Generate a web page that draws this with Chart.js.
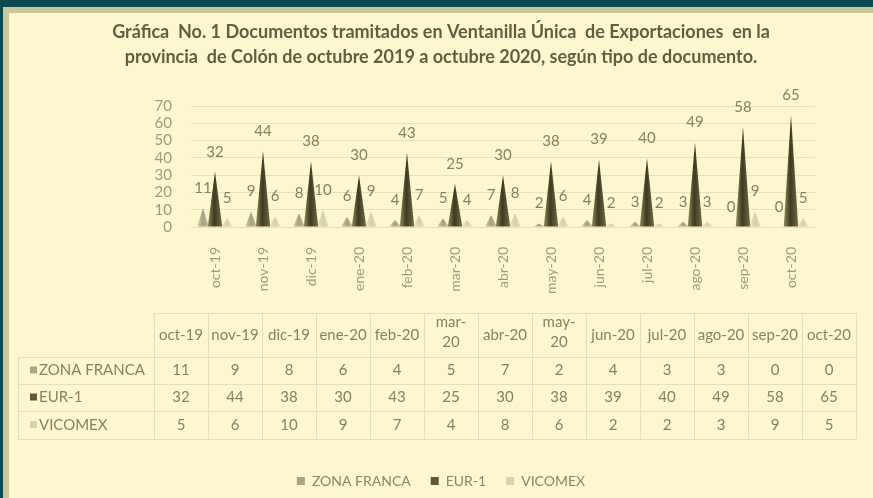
<!DOCTYPE html>
<html>
<head>
<meta charset="utf-8">
<script src="https://cdn.jsdelivr.net/npm/chart.js@4.4.0/dist/chart.umd.min.js"></script>
<style>
  html, body { margin: 0; padding: 0; width: 873px; height: 498px; overflow: hidden; background: #0b4a51; }
  #frame { position: absolute; left: 3px; top: 7px; width: 870px; height: 491px; background: #ccc69b; }
  #inner { position: absolute; left: 9px; top: 13px; width: 864px; height: 485px; background: #fcf7cf; }
  canvas { display: block; }
</style>
</head>
<body>
<div id="frame"></div>
<div id="inner"><canvas id="chart" width="864" height="485"></canvas></div>
<script>
  // data
  const categories = ['oct-19', 'nov-19', 'dic-19', 'ene-20', 'feb-20', 'mar-20', 'abr-20', 'may-20', 'jun-20', 'jul-20', 'ago-20', 'sep-20', 'oct-20'];
  const zonaFranca = [11, 9, 8, 6, 4, 5, 7, 2, 4, 3, 3, 0, 0];
  const eur1 = [32, 44, 38, 30, 43, 25, 30, 38, 39, 40, 49, 58, 65];
  const vicomex = [5, 6, 10, 9, 7, 4, 8, 6, 2, 2, 3, 9, 5];
  const seriesNames = ['ZONA FRANCA', 'EUR-1', 'VICOMEX'];
  const yTicks = [0, 10, 20, 30, 40, 50, 60, 70];
  // table headers that Excel wrapped on two lines
  const wrappedHeaders = ['mar-20', 'may-20'];

  const titleLines = [
    'Gráfica  No. 1 Documentos tramitados en Ventanilla Única  de Exportaciones  en la',
    'provincia  de Colón de octubre 2019 a octubre 2020, según tipo de documento.'
  ];

  const FONT = 'Lato, "Liberation Sans", sans-serif';
  const keyColors = ['#a9a688', '#5c5839', '#d6d3b3'];

  // draws cones instead of flat bars
  const conePlugin = {
    id: 'cones',
    beforeDatasetsDraw(chart) {
      const ctx = chart.ctx;
      const order = [0, 2, 1];
      order.forEach(i => {
        const meta = chart.getDatasetMeta(i);
        meta.data.forEach(bar => {
          if (bar.base - bar.y < 0.5) return;
          const w = bar.width * (i === 1 ? 1.2 : 0.95);
          const left = bar.x - w / 2;
          ctx.save();
          let fill = ctx.createLinearGradient(left, 0, left + w, 0);
          if (i === 1) {
            fill.addColorStop(0, '#8f8a66');
            fill.addColorStop(0.45, '#3e3a1f');
            fill.addColorStop(1, '#706b48');
          } else if (i === 0) {
            fill.addColorStop(0, '#d2cfae');
            fill.addColorStop(0.5, '#a4a183');
            fill.addColorStop(1, '#c4c1a0');
          } else {
            fill.addColorStop(0, '#ece8c5');
            fill.addColorStop(0.5, '#d2cfae');
            fill.addColorStop(1, '#e4e0bd');
          }
          ctx.fillStyle = fill;
          ctx.beginPath();
          ctx.moveTo(left, bar.base);
          ctx.lineTo(bar.x, bar.y);
          ctx.lineTo(left + w, bar.base);
          ctx.closePath();
          ctx.fill();
          ctx.restore();
        });
      });
      // value labels
      ctx.save();
      ctx.font = '15px ' + FONT;
      ctx.fillStyle = '#858262';
      ctx.textAlign = 'center';
      ctx.textBaseline = 'middle';
      [0, 2, 1].forEach(i => {
        const meta = chart.getDatasetMeta(i);
        const vals = chart.data.datasets[i].data;
        meta.data.forEach((bar, j) => {
          ctx.fillText(String(vals[j]), bar.x, bar.y - 20);
        });
      });
      ctx.restore();
      return false;
    }
  };

  // data table under the axis
  const tablePlugin = {
    id: 'dataTable',
    afterDraw(chart) {
      const ctx = chart.ctx;
      const left = 9, firstCol = 145, colW = 54;
      const right = firstCol + colW * categories.length;
      const rows = [300, 344, 371, 398, 426];
      ctx.save();
      ctx.strokeStyle = '#e4dfb6';
      ctx.lineWidth = 1;
      rows.forEach((y, k) => {
        ctx.beginPath();
        ctx.moveTo(k === 0 ? firstCol : left, y + 0.5);
        ctx.lineTo(right, y + 0.5);
        ctx.stroke();
      });
      for (let c = 0; c <= categories.length; c++) {
        const x = firstCol + c * colW + 0.5;
        ctx.beginPath();
        ctx.moveTo(x, rows[0]);
        ctx.lineTo(x, rows[4]);
        ctx.stroke();
      }
      ctx.beginPath();
      ctx.moveTo(left + 0.5, rows[1]);
      ctx.lineTo(left + 0.5, rows[4]);
      ctx.stroke();

      ctx.font = '15px ' + FONT;
      ctx.fillStyle = '#858364';
      ctx.textAlign = 'center';
      ctx.textBaseline = 'middle';
      categories.forEach((c, k) => {
        const cx = firstCol + k * colW + colW / 2;
        if (wrappedHeaders.includes(c)) {
          ctx.fillText(c.slice(0, 4), cx, 309);
          ctx.fillText(c.slice(4), cx, 329);
        } else {
          ctx.fillText(c, cx, 322);
        }
      });
      const series = [zonaFranca, eur1, vicomex];
      series.forEach((vals, r) => {
        const cy = (rows[r + 1] + rows[r + 2]) / 2;
        ctx.fillStyle = keyColors[r];
        ctx.fillRect(21, cy - 4, 7, 7);
        ctx.fillStyle = '#858364';
        ctx.textAlign = 'left';
        ctx.fillText(seriesNames[r], 30, cy);
        ctx.textAlign = 'center';
        vals.forEach((v, k) => {
          ctx.fillText(String(v), firstCol + k * colW + colW / 2, cy);
        });
      });
      ctx.restore();
    }
  };

  new Chart(document.getElementById('chart'), {
    type: 'bar',
    data: {
      labels: categories,
      datasets: [
        { label: seriesNames[0], data: zonaFranca, backgroundColor: keyColors[0] },
        { label: seriesNames[1], data: eur1, backgroundColor: keyColors[1] },
        { label: seriesNames[2], data: vicomex, backgroundColor: keyColors[2] }
      ]
    },
    options: {
      responsive: false,
      animation: false,
      devicePixelRatio: 1,
      categoryPercentage: 0.75,
      barPercentage: 1,
      layout: { padding: 0 },
      scales: {
        y: {
          min: 0,
          max: 70,
          afterBuildTicks(scale) { scale.ticks = yTicks.map(v => ({ value: v })); },
          afterFit(scale) { scale.width = 182; },
          border: { display: false },
          grid: { color: '#e6e1b7', drawTicks: false },
          ticks: { autoSkip: false, padding: 19, color: '#9e9c7d', font: { family: FONT, size: 15 } }
        },
        // empty right axis, only keeps room on the right
        yRight: {
          position: 'right',
          min: 0,
          max: 70,
          afterFit(scale) { scale.width = 58; },
          border: { display: false },
          grid: { display: false },
          ticks: { display: false }
        },
        x: {
          afterFit(scale) { scale.height = 227; },
          border: { display: true, color: '#e6e1b7' },
          grid: { display: false },
          ticks: { minRotation: 90, maxRotation: 90, padding: 12, color: '#9e9c7d', font: { family: FONT, size: 14 } }
        }
      },
      plugins: {
        tooltip: { enabled: false },
        title: {
          display: true,
          text: titleLines,
          color: '#615f41',
          font: { family: FONT, size: 18, weight: 'bold', lineHeight: 1.39 },
          padding: { top: 7, bottom: 36 }
        },
        legend: {
          position: 'bottom',
          labels: {
            boxWidth: 8,
            boxHeight: 8,
            padding: 20,
            color: '#8a886a',
            font: { family: FONT, size: 14 }
          }
        }
      }
    },
    plugins: [conePlugin, tablePlugin]
  });
</script>
</body>
</html>
